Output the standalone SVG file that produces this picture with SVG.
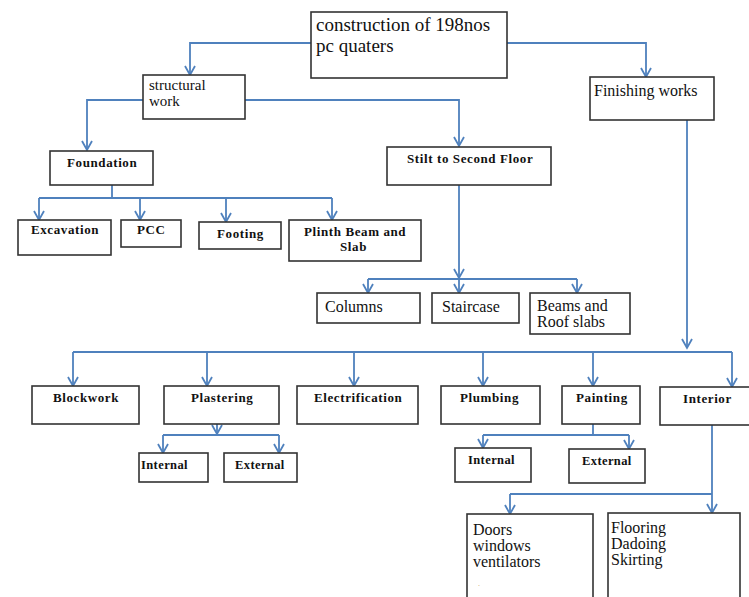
<svg xmlns="http://www.w3.org/2000/svg" width="749" height="597" viewBox="0 0 749 597">
<style>
.box{fill:#fff;stroke:#333;stroke-width:1.6}
.t{font-family:"Liberation Serif","Times New Roman",serif;fill:#111;font-size:16px}
.b{font-family:"Liberation Serif","Times New Roman",serif;fill:#111;font-size:13px;font-weight:bold;letter-spacing:0.6px}
.c{fill:none;stroke:#4F81BD;stroke-width:1.8}
</style>
<defs>
<marker id="arr" viewBox="0 0 12 12" refX="10" refY="6" markerWidth="12" markerHeight="12" markerUnits="userSpaceOnUse" orient="auto">
<path d="M1,1 L10,6 L1,11" fill="none" stroke="#4F81BD" stroke-width="1.8"/>
</marker>
</defs>
<rect width="749" height="597" fill="#fff"/>
<g id="connectors" class="c">
<path d="M311,43 H190 V75" marker-end="url(#arr)"/>
<path d="M507,43 H646 V77" marker-end="url(#arr)"/>
<path d="M143,100 H87 V150" marker-end="url(#arr)"/>
<path d="M245,100 H459 V146" marker-end="url(#arr)"/>
<path d="M112,185 V198 M39,198 H332"/>
<path d="M39,198 V220" marker-end="url(#arr)"/>
<path d="M140,198 V220" marker-end="url(#arr)"/>
<path d="M226,198 V222" marker-end="url(#arr)"/>
<path d="M332,198 V220" marker-end="url(#arr)"/>
<path d="M459,185 V278" marker-end="url(#arr)"/>
<path d="M368,279 H577"/>
<path d="M368,279 V293" marker-end="url(#arr)"/>
<path d="M459,279 V293" marker-end="url(#arr)"/>
<path d="M577,279 V293" marker-end="url(#arr)"/>
<path d="M687,120 V348" marker-end="url(#arr)"/>
<path d="M73,352 H732"/>
<path d="M73,352 V386" marker-end="url(#arr)"/>
<path d="M207,352 V386" marker-end="url(#arr)"/>
<path d="M354,352 V386" marker-end="url(#arr)"/>
<path d="M483,352 V386" marker-end="url(#arr)"/>
<path d="M593,352 V386" marker-end="url(#arr)"/>
<path d="M732,352 V387" marker-end="url(#arr)"/>
<path d="M217,424 V434" marker-end="url(#arr)"/>
<path d="M163,435 H279"/>
<path d="M163,435 V453" marker-end="url(#arr)"/>
<path d="M279,435 V453" marker-end="url(#arr)"/>
<path d="M593,424 V435 M483,435 H629"/>
<path d="M483,435 V448" marker-end="url(#arr)"/>
<path d="M629,435 V449" marker-end="url(#arr)"/>
<path d="M712,425 V494 M510,494 H712"/>
<path d="M510,494 V514" marker-end="url(#arr)"/>
<path d="M712,494 V513" marker-end="url(#arr)"/>
</g>
<g id="n-top"><rect class="box" x="311" y="12" width="196" height="66"/>
<text class="t" style="font-size:19px" x="316" y="31">construction of 198nos</text>
<text class="t" style="font-size:19px" x="316" y="52">pc quaters</text></g>
<g id="n-structural"><rect class="box" x="143" y="75" width="102" height="44"/>
<text class="t" style="font-size:15px" x="149" y="90">structural</text>
<text class="t" style="font-size:15px" x="149" y="106">work</text></g>
<g id="n-finishing"><rect class="box" x="590" y="77" width="124" height="43"/>
<text class="t" x="594" y="96">Finishing works</text></g>
<g id="n-foundation"><rect class="box" x="50" y="151" width="103" height="34"/>
<text class="b" x="67" y="167">Foundation</text></g>
<g id="n-excavation"><rect class="box" x="18" y="220" width="93" height="35"/>
<text class="b" x="31" y="234">Excavation</text></g>
<g id="n-pcc"><rect class="box" x="121" y="220" width="60" height="27"/>
<text class="b" x="137" y="234">PCC</text></g>
<g id="n-footing"><rect class="box" x="199" y="222" width="82" height="27"/>
<text class="b" x="217" y="238">Footing</text></g>
<g id="n-plinth"><rect class="box" x="289" y="220" width="132" height="41"/>
<text class="b" x="304" y="236">Plinth Beam and</text>
<text class="b" x="340" y="251">Slab</text></g>
<g id="n-stilt"><rect class="box" x="387" y="147" width="164" height="38"/>
<text class="b" x="407" y="163">Stilt to Second Floor</text></g>
<g id="n-columns"><rect class="box" x="317" y="293" width="103" height="30"/>
<text class="t" x="325" y="312">Columns</text></g>
<g id="n-staircase"><rect class="box" x="432" y="293" width="87" height="30"/>
<text class="t" x="442" y="312">Staircase</text></g>
<g id="n-beams"><rect class="box" x="530" y="293" width="100" height="41"/>
<text class="t" x="537" y="311">Beams and</text>
<text class="t" x="537" y="327">Roof slabs</text></g>
<g id="n-blockwork"><rect class="box" x="32" y="386" width="107" height="38"/>
<text class="b" x="53" y="402">Blockwork</text></g>
<g id="n-plastering"><rect class="box" x="164" y="386" width="115" height="38"/>
<text class="b" x="191" y="402">Plastering</text></g>
<g id="n-electrification"><rect class="box" x="297" y="386" width="121" height="38"/>
<text class="b" x="314" y="402">Electrification</text></g>
<g id="n-plumbing"><rect class="box" x="441" y="386" width="99" height="38"/>
<text class="b" x="460" y="402">Plumbing</text></g>
<g id="n-painting"><rect class="box" x="562" y="386" width="78" height="38"/>
<text class="b" x="576" y="402">Painting</text></g>
<g id="n-interior"><rect class="box" x="660" y="387" width="92" height="38"/>
<text class="b" x="683" y="403">Interior</text></g>
<g id="n-pl-internal"><rect class="box" x="139" y="453" width="69" height="29"/>
<text class="b" x="141" y="469" style="font-size:12.5px;letter-spacing:0.4px">Internal</text></g>
<g id="n-pl-external"><rect class="box" x="224" y="453" width="73" height="29"/>
<text class="b" x="235" y="469" style="font-size:12.5px;letter-spacing:0.4px">External</text></g>
<g id="n-pa-internal"><rect class="box" x="455" y="448" width="76" height="34"/>
<text class="b" x="468" y="464" style="font-size:12.5px;letter-spacing:0.4px">Internal</text></g>
<g id="n-pa-external"><rect class="box" x="569" y="449" width="76" height="34"/>
<text class="b" x="582" y="465" style="font-size:12.5px;letter-spacing:0.4px">External</text></g>
<g id="n-doors"><rect class="box" x="467" y="514" width="126" height="90"/>
<text class="t" x="473" y="535">Doors</text>
<text class="t" x="473" y="551">windows</text>
<text class="t" x="473" y="567">ventilators</text>
<text class="t" x="478" y="586" style="font-size:8px;fill:#c8a060">.</text></g>
<g id="n-flooring"><rect class="box" x="608" y="513" width="132" height="91"/>
<text class="t" x="611" y="533">Flooring</text>
<text class="t" x="611" y="549">Dadoing</text>
<text class="t" x="611" y="565">Skirting</text></g>
</svg>
